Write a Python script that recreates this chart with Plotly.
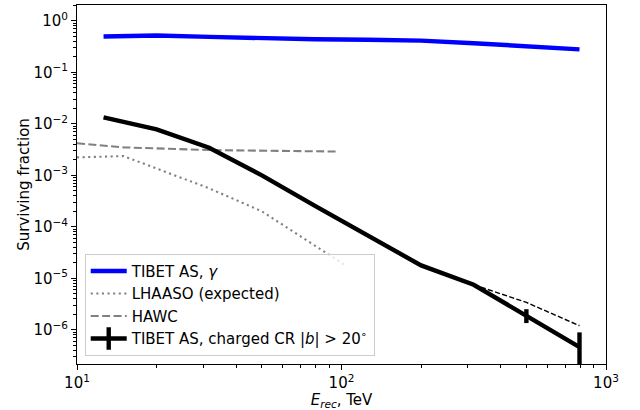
import plotly.graph_objects as go

# ---- data ----
E_grid = [12.6, 20.0, 31.6, 50.0, 79.4, 126.0, 200.0, 316.0, 500.0, 794.0]
tibet_gamma = [0.50, 0.52, 0.49, 0.46, 0.44, 0.43, 0.415, 0.37, 0.315, 0.28]
tibet_cr = [1.34e-2, 7.8e-3, 3.44e-3, 1.0e-3, 2.55e-4, 6.6e-5, 1.78e-5, 7.5e-6, 1.82e-6, 4.6e-7]
cr_err_plus = [0, 0, 0, 0, 0, 0, 0, 0, 0.69e-6, 4.3e-7]
cr_err_minus = [0, 0, 0, 0, 0, 0, 0, 0, 0.47e-6, 3.6e-7]

E_cr_alt = [316.0, 500.0, 794.0]
tibet_cr_alt = [7.5e-6, 3.4e-6, 1.2e-6]

E_lhaaso = [10.0, 15.0, 31.6, 50.0, 105.0]
lhaaso = [2.24e-3, 2.37e-3, 5.6e-4, 2.0e-4, 1.7e-5]

E_hawc = [10.0, 15.0, 32.0, 96.0]
hawc = [4.2e-3, 3.5e-3, 3.1e-3, 2.9e-3]

x_major = [10, 100, 1000]
x_major_text = ["10<sup>1</sup>", "10<sup>2</sup>", "10<sup>3</sup>"]
y_major = [1e-6, 1e-5, 1e-4, 1e-3, 1e-2, 1e-1, 1]
y_major_text = ["10<sup>\u22126</sup>", "10<sup>\u22125</sup>", "10<sup>\u22124</sup>",
                "10<sup>\u22123</sup>", "10<sup>\u22122</sup>", "10<sup>\u22121</sup>",
                "10<sup>0</sup>"]

x_minor = [m * 10 ** d for d in (1, 2) for m in range(2, 10)]
y_minor = [m * 10.0 ** d for d in range(-7, 1) for m in range(2, 10)]
y_minor = [v for v in y_minor if 2.1e-7 < v < 2.05]

FONT = "DejaVu Sans"
FS = 15
fig = go.Figure()

fig.add_trace(go.Scatter(x=E_grid, y=tibet_gamma, mode="lines",
                         line=dict(color="blue", width=4.4),
                         name="TIBET AS, <i>γ</i>", legendgroup="a"))
fig.add_trace(go.Scatter(x=E_lhaaso, y=lhaaso, mode="lines",
                         line=dict(color="grey", width=2.1, dash="2.1px,3.5px"),
                         name="LHAASO (expected)", legendgroup="b"))
fig.add_trace(go.Scatter(x=E_hawc, y=hawc, mode="lines",
                         line=dict(color="grey", width=2.1, dash="8px,3.4px"),
                         name="HAWC", legendgroup="c"))
fig.add_trace(go.Scatter(x=E_cr_alt, y=tibet_cr_alt, mode="lines",
                         line=dict(color="black", width=1.4, dash="5.2px,2.3px"),
                         showlegend=False))
fig.add_trace(go.Scatter(x=E_grid, y=tibet_cr, mode="lines",
                         line=dict(color="black", width=4.4),
                         error_y=dict(type="data", symmetric=False,
                                      array=cr_err_plus, arrayminus=cr_err_minus,
                                      color="black", thickness=4.4, width=0),
                         showlegend=False))
# legend handle (line with errorbar tick)
fig.add_trace(go.Scatter(x=[None], y=[None], mode="lines+markers",
                         line=dict(color="black", width=4.4),
                         marker=dict(symbol="line-ns", size=17,
                                     line=dict(color="black", width=4.4)),
                         name="TIBET AS, charged CR |<i>b</i>| > 20<sup>\u2218</sup>",
                         legendgroup="d"))

axis_common = dict(showline=True, linecolor="black", linewidth=1, mirror=True,
                   ticks="outside", ticklen=5, tickwidth=1.1, tickcolor="black",
                   showgrid=False, zeroline=False,
                   tickfont=dict(family=FONT, size=FS, color="black"))

fig.update_xaxes(type="log", range=[1, 3], tickmode="array",
                 tickvals=x_major, ticktext=x_major_text,
                 minor=dict(tickvals=x_minor, ticks="outside", ticklen=3,
                            tickwidth=0.8, tickcolor="black"),
                 title=dict(text="<i>E</i><sub><i>rec</i></sub>, TeV",
                            font=dict(family=FONT, size=FS, color="black"),
                            standoff=2),
                 **axis_common)
fig.update_yaxes(type="log", range=[-6.665, 0.31], tickmode="array",
                 tickvals=y_major, ticktext=y_major_text,
                 minor=dict(tickvals=y_minor, ticks="outside", ticklen=3,
                            tickwidth=0.8, tickcolor="black"),
                 title=dict(text="Surviving fraction",
                            font=dict(family=FONT, size=FS, color="black"),
                            standoff=0),
                 **axis_common)

fig.update_layout(
    width=640, height=410,
    margin=dict(l=77, r=34, t=5, b=46),
    paper_bgcolor="white", plot_bgcolor="white",
    font=dict(family=FONT, size=FS, color="black"),
    legend=dict(x=0.0146, y=0.023, xanchor="left", yanchor="bottom",
                bgcolor="rgba(255,255,255,0.8)", bordercolor="#cccccc",
                borderwidth=1, font=dict(family=FONT, size=FS, color="black"),
                itemwidth=36, tracegroupgap=0, traceorder="grouped"),
)

fig.write_html("out.html")
